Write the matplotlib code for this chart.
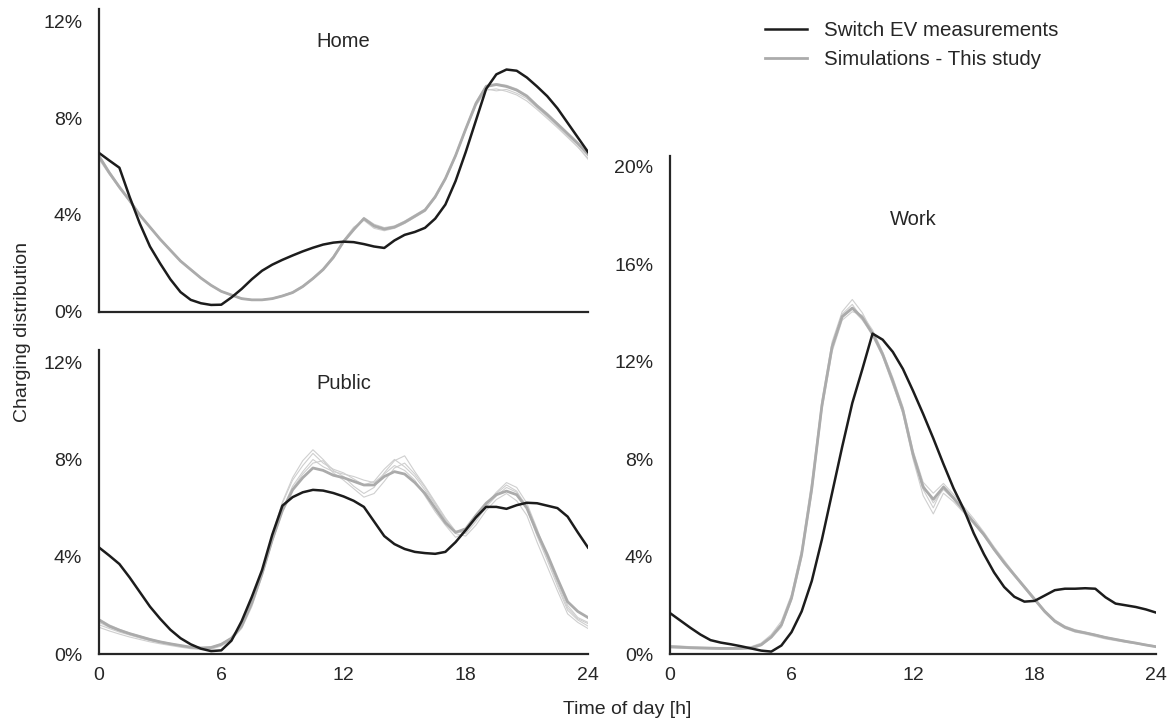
import numpy as np
import matplotlib.pyplot as plt
from matplotlib.lines import Line2D
from matplotlib.ticker import FuncFormatter

plt.rcParams["font.family"] = ["Liberation Sans", "DejaVu Sans"]

INK = "#262626"

# half-hourly time axis, 0..24 h
HOURS = np.arange(0, 24.01, 0.5)

# --- Home -------------------------------------------------------------
home_meas = [6.56, 6.25, 5.95, 4.75, 3.65, 2.7, 2.0, 1.35, 0.82, 0.5, 0.36, 0.29, 0.3,
             0.6, 0.95, 1.35, 1.7, 1.95, 2.15, 2.33, 2.5, 2.65, 2.78, 2.86, 2.9,
             2.88, 2.8, 2.7, 2.64, 2.95, 3.18, 3.3, 3.47, 3.85, 4.43, 5.4, 6.6,
             7.9, 9.2, 9.8, 10.0, 9.95, 9.67, 9.3, 8.9, 8.4, 7.8, 7.2, 6.6]
home_sim_mean = [6.42, 5.75, 5.15, 4.6, 4.0, 3.5, 3.0, 2.55, 2.1, 1.75, 1.4, 1.1, 0.85,
                 0.7, 0.55, 0.5, 0.5, 0.55, 0.66, 0.8, 1.05, 1.38, 1.75, 2.25, 2.9,
                 3.4, 3.85, 3.55, 3.42, 3.5, 3.7, 3.95, 4.2, 4.75, 5.5, 6.45, 7.55,
                 8.6, 9.3, 9.38, 9.3, 9.15, 8.9, 8.5, 8.14, 7.75, 7.35, 6.95, 6.5]
home_sim_runs = [
    [6.35, 5.7, 5.1, 4.55, 3.97, 3.48, 2.98, 2.52, 2.08, 1.72, 1.38, 1.08, 0.83,
     0.68, 0.54, 0.49, 0.5, 0.56, 0.68, 0.83, 1.08, 1.4, 1.8, 2.3, 2.95,
     3.5, 3.78, 3.45, 3.35, 3.45, 3.65, 3.9, 4.15, 4.7, 5.45, 6.4, 7.5,
     8.5, 9.15, 9.2, 9.1, 8.95, 8.7, 8.35, 7.98, 7.6, 7.2, 6.8, 6.35],
    [6.48, 5.8, 5.2, 4.63, 4.03, 3.52, 3.03, 2.57, 2.13, 1.77, 1.42, 1.12, 0.87,
     0.71, 0.57, 0.51, 0.49, 0.53, 0.64, 0.78, 1.02, 1.35, 1.72, 2.2, 2.85,
     3.35, 3.9, 3.62, 3.48, 3.55, 3.75, 4.0, 4.25, 4.8, 5.55, 6.5, 7.6,
     8.65, 9.35, 9.42, 9.35, 9.2, 8.95, 8.55, 8.2, 7.8, 7.4, 7.0, 6.55],
    [6.3, 5.68, 5.12, 4.58, 4.0, 3.5, 3.0, 2.56, 2.12, 1.76, 1.41, 1.1, 0.86,
     0.7, 0.56, 0.5, 0.51, 0.57, 0.68, 0.82, 1.06, 1.4, 1.78, 2.28, 2.92,
     3.42, 3.8, 3.5, 3.38, 3.48, 3.68, 3.92, 4.18, 4.72, 5.48, 6.42, 7.52,
     8.55, 9.2, 9.12, 9.18, 9.02, 8.8, 8.42, 8.05, 7.65, 7.25, 6.82, 6.3],
]

# --- Public -----------------------------------------------------------
public_meas = [4.38, 4.05, 3.7, 3.15, 2.55, 1.95, 1.45, 1.0, 0.65, 0.4, 0.22, 0.12, 0.15,
               0.55, 1.35, 2.35, 3.45, 4.9, 6.1, 6.45, 6.65, 6.75, 6.72, 6.62, 6.48,
               6.3, 6.05, 5.45, 4.85, 4.52, 4.32, 4.2, 4.15, 4.12, 4.2, 4.6, 5.1,
               5.62, 6.05, 6.05, 5.97, 6.12, 6.22, 6.2, 6.1, 6.0, 5.65, 5.0, 4.38]
public_sim_mean = [1.4, 1.15, 0.98, 0.84, 0.72, 0.6, 0.5, 0.42, 0.35, 0.28, 0.25, 0.27, 0.4,
                   0.65, 1.15, 2.1, 3.3, 4.7, 5.9, 6.75, 7.25, 7.65, 7.55, 7.35, 7.25,
                   7.1, 6.95, 6.95, 7.3, 7.5, 7.4, 7.05, 6.6, 6.0, 5.4, 5.0, 5.15,
                   5.7, 6.2, 6.55, 6.7, 6.55, 6.0, 5.0, 4.1, 3.1, 2.15, 1.75, 1.5]
public_sim_runs = [
    [1.2, 1.05, 0.9, 0.78, 0.66, 0.55, 0.46, 0.38, 0.31, 0.25, 0.2, 0.22, 0.35,
     0.6, 1.1, 2.05, 3.35, 4.85, 6.2, 7.15, 7.75, 8.25, 7.85, 7.6, 7.45,
     7.2, 6.95, 7.1, 7.6, 8.0, 7.7, 7.3, 6.75, 6.15, 5.5, 5.05, 5.05,
     5.55, 6.1, 6.6, 6.95, 6.7, 6.0, 4.85, 3.85, 2.8, 1.8, 1.4, 1.15],
    [1.1, 0.95, 0.82, 0.7, 0.6, 0.5, 0.42, 0.35, 0.28, 0.22, 0.18, 0.2, 0.33,
     0.58, 1.05, 1.95, 3.2, 4.6, 5.85, 6.8, 7.4, 7.85, 7.95, 7.45, 7.15,
     6.8, 6.45, 6.6, 7.1, 7.65, 7.85, 7.4, 6.85, 6.2, 5.55, 4.95, 4.85,
     5.3, 5.9, 6.35, 6.6, 6.3, 5.7, 4.6, 3.6, 2.6, 1.65, 1.3, 1.05],
    [1.3, 1.1, 0.95, 0.8, 0.68, 0.57, 0.48, 0.4, 0.33, 0.27, 0.23, 0.25, 0.38,
     0.63, 1.12, 2.15, 3.4, 4.9, 6.25, 7.25, 7.95, 8.4, 8.0, 7.55, 7.3,
     6.9, 6.6, 6.85, 7.45, 7.95, 8.15, 7.5, 6.9, 6.25, 5.6, 5.05, 4.95,
     5.45, 6.05, 6.5, 6.85, 6.65, 6.1, 4.9, 3.95, 2.9, 1.9, 1.45, 1.25],
    [1.45, 1.2, 1.02, 0.86, 0.74, 0.62, 0.52, 0.44, 0.36, 0.3, 0.26, 0.28, 0.42,
     0.68, 1.2, 2.2, 3.3, 4.65, 5.95, 6.9, 7.5, 8.0, 7.7, 7.5, 7.4,
     7.3, 7.15, 7.05, 7.4, 7.75, 7.55, 7.15, 6.5, 5.85, 5.3, 4.8, 5.0,
     5.55, 6.15, 6.65, 7.05, 6.85, 6.2, 5.15, 4.0, 3.0, 2.0, 1.5, 1.3],
]

# --- Work -------------------------------------------------------------
work_meas = [1.68, 1.38, 1.08, 0.8, 0.57, 0.47, 0.4, 0.32, 0.23, 0.14, 0.1, 0.35, 0.9,
             1.75, 3.0, 4.7, 6.6, 8.5, 10.3, 11.7, 13.15, 12.9, 12.4, 11.7, 10.8,
             9.85, 8.85, 7.8, 6.8, 5.95, 4.95, 4.1, 3.35, 2.75, 2.35, 2.15, 2.18,
             2.4, 2.62, 2.68, 2.68, 2.7, 2.68, 2.33, 2.07, 2.0, 1.93, 1.83, 1.7]
work_sim_mean = [0.3, 0.28, 0.26, 0.25, 0.24, 0.23, 0.23, 0.23, 0.25, 0.38, 0.7, 1.2, 2.3,
                 4.1, 6.8, 10.2, 12.6, 13.85, 14.2, 13.8, 13.15, 12.3, 11.2, 10.0, 8.2,
                 6.85, 6.35, 6.85, 6.4, 5.9, 5.4, 4.9, 4.3, 3.75, 3.25, 2.75, 2.25,
                 1.75, 1.35, 1.1, 0.95, 0.87, 0.78, 0.68, 0.6, 0.52, 0.45, 0.37, 0.3]
work_sim_runs = [
    [0.35, 0.33, 0.3, 0.28, 0.27, 0.26, 0.25, 0.26, 0.3, 0.45, 0.8, 1.35, 2.45,
     4.3, 7.1, 10.4, 12.8, 14.05, 14.55, 14.0, 13.2, 12.25, 11.1, 9.85, 8.0,
     6.5, 5.75, 6.6, 6.25, 5.8, 5.35, 4.85, 4.25, 3.7, 3.2, 2.7, 2.2,
     1.7, 1.3, 1.05, 0.9, 0.82, 0.72, 0.62, 0.55, 0.48, 0.42, 0.35, 0.28],
    [0.25, 0.24, 0.22, 0.21, 0.2, 0.19, 0.19, 0.2, 0.22, 0.34, 0.65, 1.1, 2.2,
     3.95, 6.6, 10.0, 12.4, 13.7, 14.05, 13.9, 13.3, 12.4, 11.35, 10.15, 8.35,
     7.05, 6.6, 7.0, 6.55, 6.05, 5.55, 5.0, 4.4, 3.85, 3.3, 2.8, 2.3,
     1.8, 1.4, 1.15, 1.0, 0.9, 0.8, 0.7, 0.62, 0.55, 0.47, 0.4, 0.33],
    [0.32, 0.3, 0.28, 0.27, 0.26, 0.25, 0.24, 0.24, 0.27, 0.4, 0.72, 1.25, 2.35,
     4.2, 6.95, 10.3, 12.7, 13.95, 14.35, 13.75, 13.05, 12.2, 11.05, 9.9, 8.1,
     6.75, 6.0, 6.9, 6.45, 5.95, 5.45, 4.95, 4.35, 3.8, 3.25, 2.75, 2.25,
     1.78, 1.38, 1.12, 0.97, 0.88, 0.8, 0.7, 0.6, 0.5, 0.43, 0.36, 0.3],
    [0.28, 0.26, 0.25, 0.24, 0.23, 0.22, 0.22, 0.23, 0.26, 0.36, 0.68, 1.18, 2.25,
     4.05, 6.7, 10.1, 12.5, 13.8, 14.15, 13.7, 13.1, 12.35, 11.25, 10.05, 8.25,
     6.95, 6.2, 6.75, 6.35, 5.85, 5.35, 4.85, 4.3, 3.7, 3.2, 2.7, 2.2,
     1.72, 1.32, 1.08, 0.93, 0.85, 0.76, 0.66, 0.58, 0.5, 0.44, 0.38, 0.32],
]

X_TICKS = [0, 6, 12, 18, 24]

MEAS_COLOR = "#1c1c1c"
SIM_COLOR = "#ababab"
RUN_COLOR = "#cfcfcf"


def style_axes(ax, ymax, yticks, show_x):
    for side in ("top", "right"):
        ax.spines[side].set_visible(False)
    for side in ("left", "bottom"):
        ax.spines[side].set_linewidth(1.6)
        ax.spines[side].set_color(INK)
    ax.set_xlim(0, 24)
    ax.set_ylim(0, ymax)
    ax.set_yticks(yticks)
    ax.yaxis.set_major_formatter(FuncFormatter(lambda v, _: f"{v:.0f}%"))
    ax.tick_params(axis="y", length=0, pad=12, labelsize=14, colors=INK)
    if show_x:
        ax.set_xticks(X_TICKS)
        ax.tick_params(axis="x", length=0, pad=9, labelsize=14, colors=INK)
    else:
        ax.set_xticks([])


def draw_panel(ax, meas, mean, runs, title, title_y):
    for run in runs:
        ax.plot(HOURS, run, color=RUN_COLOR, lw=0.8, zorder=1)
    ax.plot(HOURS, mean, color=SIM_COLOR, lw=2.0, zorder=2)
    ax.plot(HOURS, meas, color=MEAS_COLOR, lw=1.8, zorder=3)
    ax.text(0.5, title_y, title, transform=ax.transAxes, ha="center",
            va="center", fontsize=14.5, color=INK)


fig = plt.figure(figsize=(11.72, 7.25), dpi=100)

ax_home = fig.add_axes([0.0845, 0.5697, 0.4172, 0.4180])
ax_public = fig.add_axes([0.0845, 0.0979, 0.4172, 0.4193])
ax_work = fig.add_axes([0.5717, 0.0979, 0.4147, 0.6873])

draw_panel(ax_home, home_meas, home_sim_mean, home_sim_runs, "Home", 0.892)
draw_panel(ax_public, public_meas, public_sim_mean, public_sim_runs, "Public", 0.89)
draw_panel(ax_work, work_meas, work_sim_mean, work_sim_runs, "Work", 0.873)

style_axes(ax_home, 12.5, [0, 4, 8, 12], show_x=False)
style_axes(ax_public, 12.5, [0, 4, 8, 12], show_x=True)
style_axes(ax_work, 20.45, [0, 4, 8, 12, 16, 20], show_x=True)

fig.text(0.019, 0.542, "Charging distribution", rotation=90, ha="center",
         va="center", fontsize=14, color=INK)
fig.text(0.535, 0.021, "Time of day [h]", ha="center", va="center",
         fontsize=14, color=INK)

handles = [Line2D([], [], color=MEAS_COLOR, lw=1.8),
           Line2D([], [], color=SIM_COLOR, lw=2.0)]
fig.legend(handles, ["Switch EV measurements", "Simulations - This study"],
           loc="upper left", bbox_to_anchor=(0.653, 0.971), frameon=False,
           fontsize=14.8, handlelength=2.05, handletextpad=0.8,
           labelspacing=0.5, borderpad=0, borderaxespad=0,
           labelcolor=INK)

fig.savefig("out.png", dpi=100)
